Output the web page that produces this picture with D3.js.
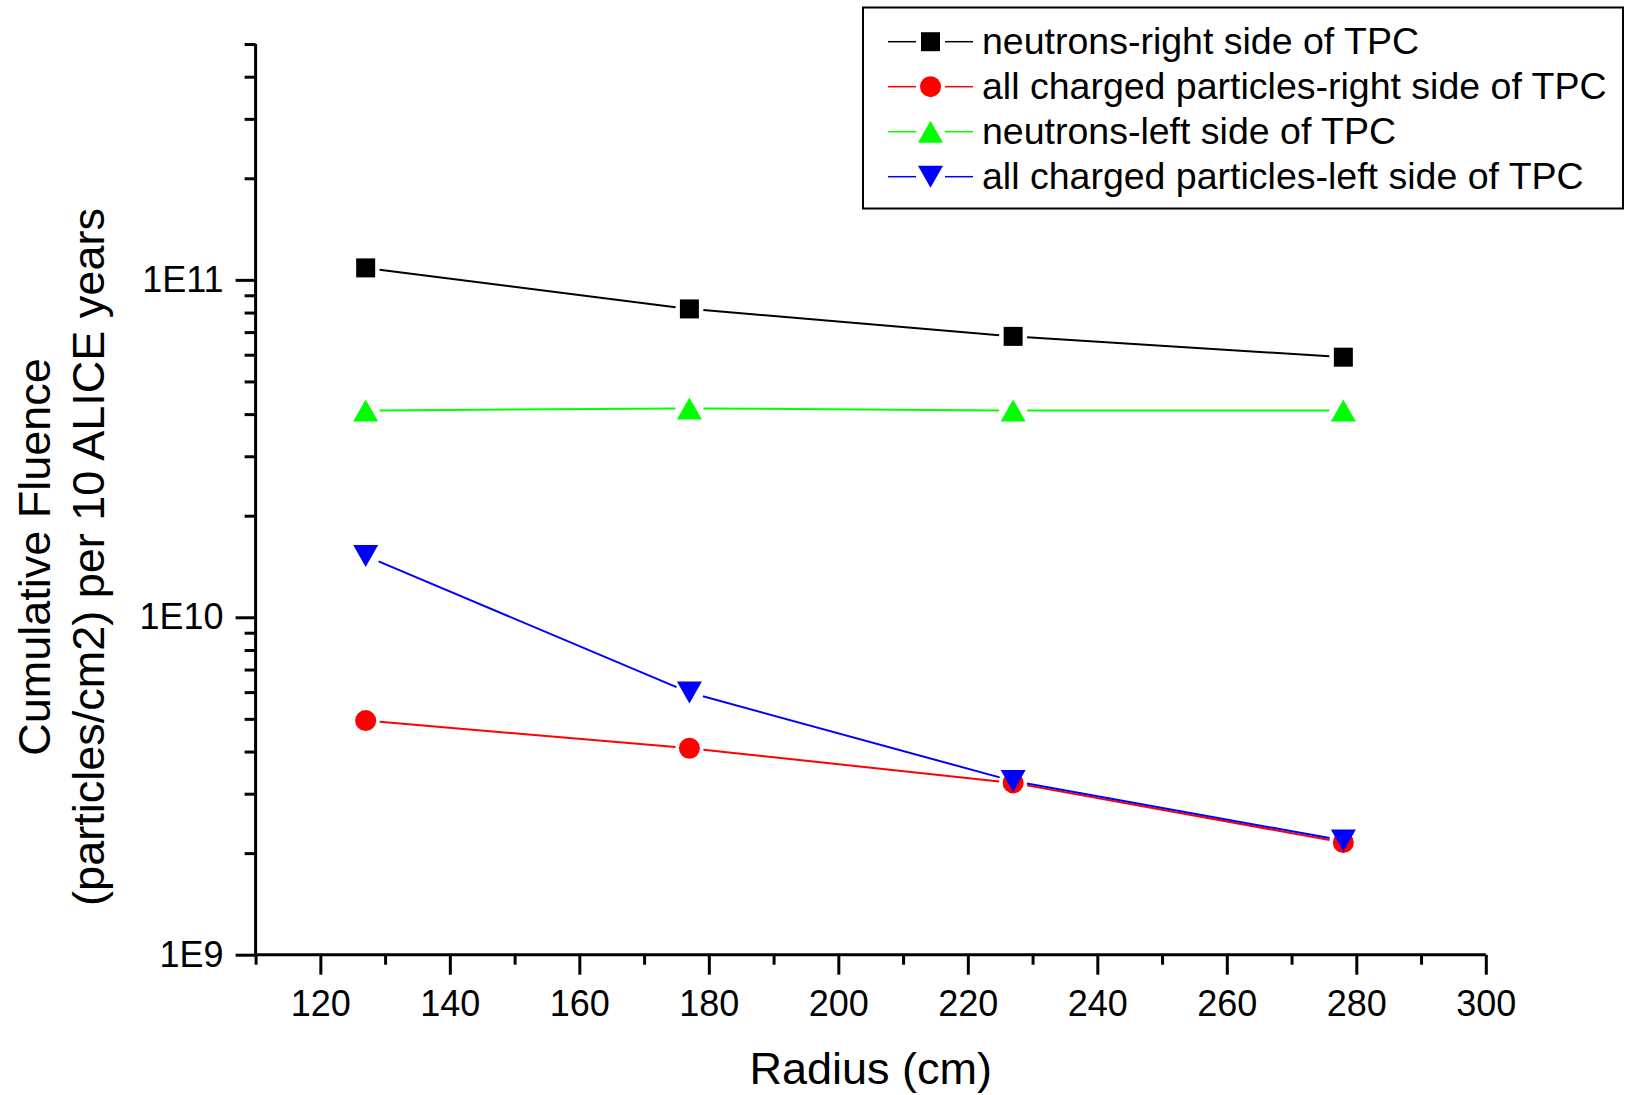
<!DOCTYPE html>
<html>
<head>
<meta charset="utf-8">
<title>Cumulative Fluence vs Radius</title>
<script src="https://cdn.jsdelivr.net/npm/d3@7"></script>
<style>
body {
  margin: 0;
  background: #fff;
}
#chart {
  width: 1625px;
  height: 1095px;
}
text {
  font-family: "Liberation Sans", Arial, sans-serif;
  fill: #000;
}
</style>
</head>
<body>
<div id="chart"></div>
<script>
// values
var radius = [127, 177, 227, 278];
var neutronsRight = [1.085e11, 8.2e10, 6.8e10, 5.9e10];
var chargedRight = [4.94e9, 4.09e9, 3.23e9, 2.15e9];
var neutronsLeft = [4.1e10, 4.16e10, 4.1e10, 4.1e10];
var chargedLeft = [1.52e10, 5.98e9, 3.27e9, 2.18e9];

var seriesNames = [
  "neutrons-right side of TPC",
  "all charged particles-right side of TPC",
  "neutrons-left side of TPC",
  "all charged particles-left side of TPC"
];
var seriesValues = [neutronsRight, chargedRight, neutronsLeft, chargedLeft];
var seriesColors = ["#000000", "#ff0000", "#00ff00", "#0000ff"];
var seriesMarkers = ["square", "circle", "up", "down"];

var xMajor = [120, 140, 160, 180, 200, 220, 240, 260, 280, 300];
var xMinor = [110, 130, 150, 170, 190, 210, 230, 250, 270, 290];
var yMajor = [1e9, 1e10, 1e11];
var yMajorLabels = ["1E9", "1E10", "1E11"];
var yMinor = [2e9, 3e9, 4e9, 5e9, 6e9, 7e9, 8e9, 9e9,
              2e10, 3e10, 4e10, 5e10, 6e10, 7e10, 8e10, 9e10,
              2e11, 3e11, 4e11, 5e11];

var W = 1625, H = 1095;
var x = d3.scaleLinear().domain([110, 300]).range([255.6, 1485.8]);
var y = d3.scaleLog().domain([1e9, 5e11]).range([954.7, 44]);

var svg = d3.select("#chart").append("svg")
  .attr("width", W)
  .attr("height", H);

// axes: minor and major ticks in their own groups, otherwise the second call wipes the first
var xAt = "translate(0," + y.range()[0] + ")";
svg.append("g").attr("class", "minor").attr("transform", xAt)
  .call(d3.axisBottom(x).tickValues(xMinor).tickSize(10).tickFormat(""));
var xg = svg.append("g").attr("transform", xAt)
  .call(d3.axisBottom(x).tickValues(xMajor).tickSize(20).tickPadding(16).tickFormat(d3.format("d")));
xg.selectAll("text").style("font-size", "36px");

var yAt = "translate(" + x.range()[0] + ",0)";
svg.append("g").attr("class", "minor").attr("transform", yAt)
  .call(d3.axisLeft(y).tickValues(yMinor).tickSize(11).tickFormat(""));
var yg = svg.append("g").attr("transform", yAt)
  .call(d3.axisLeft(y).tickValues(yMajor).tickSize(20).tickPadding(12)
    .tickFormat(function(d, i) { return yMajorLabels[i]; }));
yg.selectAll("text").style("font-size", "36px");

svg.selectAll(".minor .domain").remove();
svg.selectAll(".domain").attr("stroke-width", 3).attr("stroke", "#000");
svg.selectAll(".tick line").attr("stroke-width", 3).attr("stroke", "#000");
// drop the outer end caps of the domain path
xg.select(".domain").attr("d", "M" + x.range()[0] + ",0H" + x.range()[1]);
yg.select(".domain").attr("d", "M0," + y.range()[0] + "V" + y.range()[1]);

// axis titles
svg.append("text")
  .attr("x", (x.range()[0] + x.range()[1]) / 2)
  .attr("y", 1084)
  .attr("text-anchor", "middle")
  .style("font-size", "45px")
  .text("Radius (cm)");

var ytitle = svg.append("text")
  .attr("transform", "translate(50,557) rotate(-90)")
  .attr("text-anchor", "middle")
  .style("font-size", "45px");
ytitle.append("tspan").attr("x", 0).attr("y", 0).text("Cumulative Fluence");
ytitle.append("tspan").attr("x", 0).attr("y", 54).text("(particles/cm2) per 10 ALICE years");

// markers
function markerPath(kind) {
  if (kind == "square") return "M-9.5,-9.5H9.5V9.5H-9.5Z";
  if (kind == "circle") return "M-10.5,0A10.5,10.5 0 1,0 10.5,0A10.5,10.5 0 1,0 -10.5,0Z";
  if (kind == "up") return "M0,-11L12.5,11H-12.5Z";
  return "M0,11L12.5,-11H-12.5Z";
}

// lines stop short of the markers, like the original
var gap = 14;
function gappedSegments(pts) {
  var segs = [];
  for (var i = 0; i < pts.length - 1; i++) {
    var a = pts[i], b = pts[i + 1];
    var dx = b[0] - a[0], dy = b[1] - a[1];
    var len = Math.sqrt(dx * dx + dy * dy);
    var ux = dx / len, uy = dy / len;
    segs.push([a[0] + ux * gap, a[1] + uy * gap, b[0] - ux * gap, b[1] - uy * gap]);
  }
  return segs;
}

seriesValues.forEach(function(vals, s) {
  var pts = vals.map(function(v, i) { return [x(radius[i]), y(v)]; });
  var g = svg.append("g");
  g.selectAll("line").data(gappedSegments(pts)).enter().append("line")
    .attr("x1", function(d) { return d[0]; })
    .attr("y1", function(d) { return d[1]; })
    .attr("x2", function(d) { return d[2]; })
    .attr("y2", function(d) { return d[3]; })
    .attr("stroke", seriesColors[s])
    .attr("stroke-width", 2);
  g.selectAll("path").data(pts).enter().append("path")
    .attr("transform", function(d) { return "translate(" + d[0] + "," + d[1] + ")"; })
    .attr("d", markerPath(seriesMarkers[s]))
    .attr("fill", seriesColors[s]);
});

// legend
var legend = svg.append("g");
legend.append("rect")
  .attr("x", 863).attr("y", 7.5)
  .attr("width", 760).attr("height", 201)
  .attr("fill", "#fff")
  .attr("stroke", "#000")
  .attr("stroke-width", 2);

seriesNames.forEach(function(name, s) {
  var cy = 41.7 + s * 45;
  var row = legend.append("g");
  row.append("line").attr("x1", 888).attr("x2", 916).attr("y1", cy).attr("y2", cy)
    .attr("stroke", seriesColors[s]).attr("stroke-width", 1.5);
  row.append("line").attr("x1", 945).attr("x2", 973).attr("y1", cy).attr("y2", cy)
    .attr("stroke", seriesColors[s]).attr("stroke-width", 1.5);
  row.append("path")
    .attr("transform", "translate(930.5," + cy + ")")
    .attr("d", markerPath(seriesMarkers[s]))
    .attr("fill", seriesColors[s]);
  row.append("text")
    .attr("x", 982)
    .attr("y", cy + 12)
    .style("font-size", "37.5px")
    .text(name);
});
</script>
</body>
</html>
